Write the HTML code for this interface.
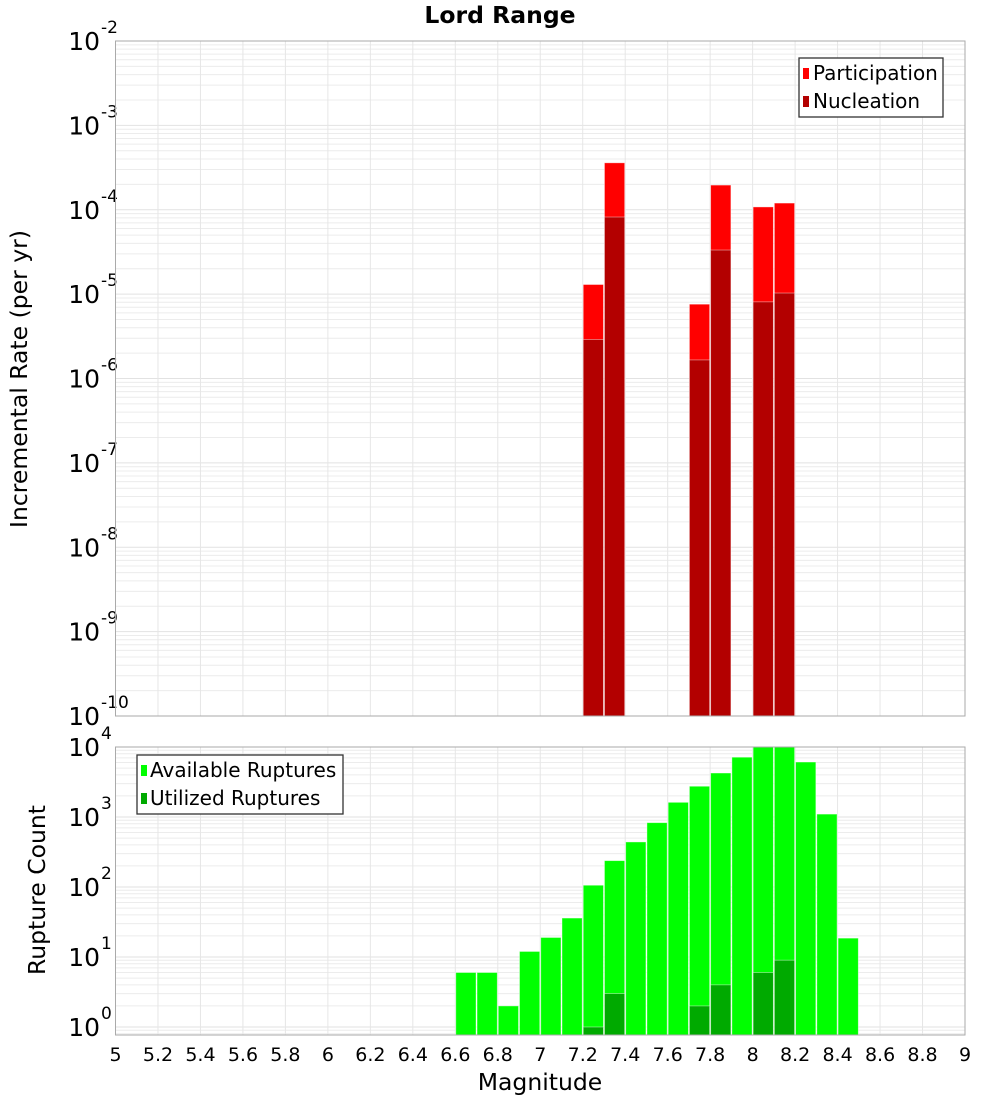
<!DOCTYPE html>
<html><head><meta charset="utf-8"><style>
body{margin:0;background:#fff;font-family:"Liberation Sans","DejaVu Sans",sans-serif}
svg text{font-family:"DejaVu Sans","Liberation Sans",sans-serif}
</style></head><body>
<svg id="c" width="1000" height="1100" xmlns="http://www.w3.org/2000/svg">
<text x="500" y="23" text-anchor="middle" font-size="23.5" font-weight="bold">Lord Range</text>
<g id="topPanel"></g>
<g id="botPanel"></g>
<text transform="translate(27,379) rotate(-90)" text-anchor="middle" font-size="23.5">Incremental Rate (per yr)</text>
<text transform="translate(45,890) rotate(-90)" text-anchor="middle" font-size="23.5">Rupture Count</text>
<text x="540" y="1090" text-anchor="middle" font-size="23.5">Magnitude</text>
<g id="legends">
<g>
<rect x="799" y="58" width="144" height="59" fill="#fff" stroke="#333" stroke-width="1.3"/>
<rect x="803" y="68" width="6" height="11" fill="#ff0000"/>
<text x="813" y="80" font-size="20">Participation</text>
<rect x="803" y="96" width="6" height="11" fill="#b30000"/>
<text x="813" y="108" font-size="20">Nucleation</text>
</g>
<g>
<rect x="137" y="755" width="206" height="59" fill="#fff" stroke="#333" stroke-width="1.3"/>
<rect x="141" y="765" width="6" height="11" fill="#00ff00"/>
<text x="150" y="777" font-size="20">Available Ruptures</text>
<rect x="141" y="793" width="6" height="11" fill="#00aa00"/>
<text x="150" y="805" font-size="20">Utilized Ruptures</text>
</g>
</g>
</svg>
<script>
const rateMags=[7.25,7.35,7.75,7.85,8.05,8.15];
const participation=[1.3e-5,3.6e-4,7.6e-6,1.96e-4,1.08e-4,1.2e-4];
const nucleation=[2.9e-6,8.2e-5,1.66e-6,3.33e-5,8.1e-6,1.03e-5];
const countMags=[6.65,6.75,6.85,6.95,7.05,7.15,7.25,7.35,7.45,7.55,7.65,7.75,7.85,7.95,8.05,8.15,8.25,8.35,8.45];
const available=[6,6,2,12,19,36,106,238,440,830,1620,2750,4250,7150,10000,10000,6100,1100,18.6];
const utilizedMags=[7.25,7.35,7.75,7.85,8.05,8.15];
const utilized=[1,3,2,4,6,9];
const xTicks=[5,5.2,5.4,5.6,5.8,6,6.2,6.4,6.6,6.8,7,7.2,7.4,7.6,7.8,8,8.2,8.4,8.6,8.8,9];
const rateExps=[-2,-3,-4,-5,-6,-7,-8,-9,-10];
const countExps=[4,3,2,1,0];

const NS="http://www.w3.org/2000/svg";
const X0=115.5,X1=965;
const xs=m=>X0+(m-5)/4*(X1-X0);
const yTop=v=>41+(-2-Math.log10(v))*84.375;
const yBot=v=>747+(4-Math.log10(v))*70;
function mk(p,t,a){const e=document.createElementNS(NS,t);for(const k in a)e.setAttribute(k,a[k]);p.appendChild(e);return e;}
function panel(g,y0,y1,yf,emin,emax,exps){
  mk(g,'rect',{x:X0,y:y0,width:X1-X0,height:y1-y0,fill:'#fff'});
  for(let e=emin;e<emax;e++)for(let k=1;k<10;k++){const yy=yf(k*Math.pow(10,e));if(yy<y0||yy>y1)continue;
    const l=mk(g,'line',{x1:X0,x2:X1,y1:yy,y2:yy,stroke:k==1?'#e2e2e2':'#ececec','stroke-width':1});
    
    }
  xTicks.forEach(t=>{const l=mk(g,'line',{x1:xs(t),x2:xs(t),y1:y0,y2:y1,stroke:'#e6e6e6'});
    
    });
  exps.forEach(e=>{const yy=yf(Math.pow(10,e));const t=mk(g,'text',{x:100,y:yy+9,'text-anchor':'end','font-size':25});
    t.textContent='10';
    
    
    const s=mk(g,'text',{x:101,y:yy-8,'font-size':17});s.textContent=String(e);
    
    });
}
function bar(g,m,v,yf,y1,col,name){const yy=Math.max(yf(v),yf===yTop?41:747);
  const r=mk(g,'rect',{x:xs(m-0.05)+0.5,y:yy,width:xs(5.1)-xs(5)-1,height:y1-yy,fill:col,stroke:'#fff','stroke-opacity':0.5,'stroke-width':0.8});
  
  }
const topG=document.getElementById('topPanel'),botG=document.getElementById('botPanel');
panel(topG,41,716,yTop,-10,-2,rateExps);
rateMags.forEach((m,i)=>bar(topG,m,participation[i],yTop,716,'#ff0000','bar-participation'));
rateMags.forEach((m,i)=>bar(topG,m,nucleation[i],yTop,716,'#b30000','bar-nucleation'));
mk(topG,'rect',{x:X0,y:41,width:X1-X0,height:675,fill:'none',stroke:'#aaa'});
panel(botG,747,1035,yBot,-1,4,countExps);
countMags.forEach((m,i)=>bar(botG,m,available[i],yBot,1035,'#00ff00','bar-available'));
utilizedMags.forEach((m,i)=>bar(botG,m,utilized[i],yBot,1035,'#00aa00','bar-utilized'));
mk(botG,'rect',{x:X0,y:747,width:X1-X0,height:288,fill:'none',stroke:'#aaa'});
xTicks.forEach(t=>{const e=mk(botG,'text',{x:xs(t),y:1061,'text-anchor':'middle','font-size':19});e.textContent=String(t);
  
  });
document.getElementById('c').appendChild(document.getElementById('legends'));
</script>
</body></html>
